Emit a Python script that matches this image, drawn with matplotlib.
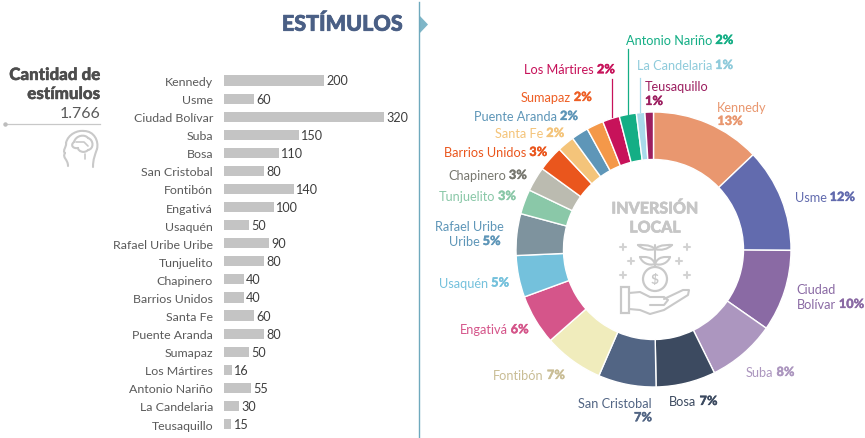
import matplotlib
matplotlib.use("Agg")
import matplotlib.pyplot as plt
import matplotlib.patheffects as pe
from matplotlib.patches import Circle, Polygon, PathPatch, Rectangle
from matplotlib.path import Path

plt.rcParams['font.family'] = ['Lato', 'DejaVu Sans']

# ---------- data ----------
bar_names = ["Kennedy", "Usme", "Ciudad Bolívar", "Suba", "Bosa", "San Cristobal", "Fontibón",
             "Engativá", "Usaquén", "Rafael Uribe Uribe", "Tunjuelito", "Chapinero",
             "Barrios Unidos", "Santa Fe", "Puente Aranda", "Sumapaz", "Los Mártires",
             "Antonio Nariño", "La Candelaria", "Teusaquillo"]
bar_values = [200, 60, 320, 150, 110, 80, 140, 100, 50, 90, 80, 40, 40, 60, 80, 50, 16, 55, 30, 15]
pie_shares = [12.9, 12.2, 9.6, 8.0, 7.0, 6.8, 7.0, 5.9, 4.9, 4.9, 2.9, 2.9, 3.0, 2.0, 2.0, 2.0, 2.0, 2.0, 1.0, 1.0]
pie_colors = ["#E9976F", "#626BAE", "#8A6AA4", "#AC96BF", "#3C4A60", "#526584", "#F0ECBC", "#D5558A",
              "#74C1DC", "#7E939E", "#8AC8A8", "#BBBBB0", "#EA561D", "#F4C47A", "#5E96B8", "#F49849",
              "#C7125A", "#14AE85", "#A8DAEA", "#9C1F60"]
title = "ESTÍMULOS"
total_label = ["Cantidad de", "estímulos"]
total_value = "1.766"
center_label = ["INVERSIÓN", "LOCAL"]
# regular text, bold text, anchor side, x, y, colour (one entry per text row)
pie_labels = [
    ("Antonio Nariño ", "2%", "l", 626, 41, "#14AE85"),
    ("La Candelaria ", "1%", "l", 636.7, 66, "#8FCBDB"),
    ("Teusaquillo", "", "l", 645, 87, "#9C1F60"),
    ("", "1%", "l", 645, 102, "#9C1F60"),
    ("Kennedy", "", "l", 717.3, 108, "#E9976F"),
    ("", "13%", "l", 717.3, 122, "#E9976F"),
    ("Usme ", "12%", "l", 794.7, 198, "#626BAE"),
    ("Los Mártires ", "2%", "l", 524.3, 70.3, "#C7125A"),
    ("Sumapaz ", "2%", "l", 520.7, 98, "#EE5F25"),
    ("Puente Aranda ", "2%", "l", 474, 117, "#5E96B8"),
    ("Santa Fe ", "2%", "l", 495, 134, "#F4C47A"),
    ("Barrios Unidos ", "3%", "l", 444, 153, "#EA561D"),
    ("Chapinero ", "3%", "l", 448, 176, "#77776F"),
    ("Tunjuelito ", "3%", "l", 438.5, 197, "#8AC8A8"),
    ("Rafael Uribe", "", "r", 504, 227, "#5E96B8"),
    ("Uribe ", "5%", "r", 504, 242, "#5E96B8"),
    ("Usaquén ", "5%", "l", 439, 283.6, "#74C1DC"),
    ("Engativá ", "6%", "l", 459.7, 330.3, "#D5558A"),
    ("Fontibón ", "7%", "l", 493.3, 376, "#C9BD95"),
    ("San Cristobal", "", "r", 652, 404, "#526584"),
    ("", "7%", "r", 652, 418.3, "#526584"),
    ("Bosa ", "7%", "l", 669.3, 402, "#3C4A60"),
    ("Suba ", "8%", "l", 746, 373, "#AC96BF"),
    ("Ciudad", "", "l", 796.7, 290, "#8A6AA4"),
    ("Bolívar ", "10%", "l", 796.7, 305, "#8A6AA4"),
]

W, H = 865, 439
fig = plt.figure(figsize=(W / 100, H / 100), dpi=100, facecolor="white")


def px_axes(x0, y0, x1, y1, **kw):
    return fig.add_axes([x0 / W, 1 - y1 / H, (x1 - x0) / W, (y1 - y0) / H], **kw)


def heavy(col, w=0.5):
    return [pe.withStroke(linewidth=w, foreground=col)]


# ---------- bars ----------
ax = px_axes(224, 72.46, 384, 434.04)
pos = list(range(len(bar_values)))
bars = ax.barh(pos, bar_values, height=0.56, color="#C4C4C4")
ax.set_xlim(0, 320)
ax.set_ylim(19.5, -0.5)
ax.set_yticks(pos, bar_names)
ax.set_xticks([])
ax.tick_params(axis="y", length=0, pad=7.9, labelsize=8.9, labelcolor="#5A5A5A")
for s in ax.spines.values():
    s.set_visible(False)
ax.patch.set_alpha(0)
ax.bar_label(bars, padding=1.6, fontsize=9.1, color="#3D3D3D")

# ---------- donut ----------
pax = px_axes(653.5 - 137.5, 250.5 - 137.5, 653.5 + 137.5, 250.5 + 137.5)
pax.pie(pie_shares, colors=pie_colors, startangle=90, counterclock=False, radius=1,
        wedgeprops=dict(width=47.5 / 137.5, edgecolor="white", linewidth=1.0))
pax.set_xlim(-1, 1)
pax.set_ylim(-1, 1)

# ---------- overlay in pixel coordinates ----------
ov = fig.add_axes([0, 0, 1, 1])
ov.set_xlim(0, W)
ov.set_ylim(H, 0)
ov.axis("off")
ov.patch.set_alpha(0)

ov.plot([418.5, 418.5], [3, 439], color="#6FA9BD", lw=1.0)
ov.add_patch(Polygon([[419, 16], [428, 25.5], [419, 35]], closed=True, fc="#7FB6C8", ec="none"))
ov.text(403, 25, title, ha="right", va="center", fontsize=15.5, fontweight="black", color="#4A5F85",
        path_effects=heavy("#4A5F85", 0.5))

for i, t in enumerate(total_label):
    ov.text(100, 76 + 19 * i, t, ha="right", va="center", fontsize=12.2, fontweight="black", color="#4D4D4D",
            path_effects=heavy("#4D4D4D", 0.3))
ov.text(100, 114, total_value, ha="right", va="center", fontsize=11.4, color="#5A5A5A")
ov.plot([5, 100], [124.5, 124.5], color="#C8C8C8", lw=0.9)
ov.plot([5], [124.5], "o", ms=2.2, color="#BDBDBD")

fig.canvas.draw()
rend = fig.canvas.get_renderer()
FS = 9.2


def mixed(reg, bold, side, x, y, col):
    t1 = ov.text(0, y, reg, fontsize=FS, color=col, va="center", ha="left") if reg else None
    t2 = ov.text(0, y, bold, fontsize=FS, color=col, va="center", ha="left", fontweight="black",
                 path_effects=heavy(col, 0.2)) if bold else None
    w1 = t1.get_window_extent(rend).width if t1 else 0
    w2 = t2.get_window_extent(rend).width if t2 else 0
    gap = 3 if (t1 and t2) else 0
    start = x if side == "l" else x - (w1 + w2 + gap)
    if t1:
        t1.set_text(reg.rstrip())
        t1.set_x(start)
        w1 = t1.get_window_extent(rend).width
    if t2:
        t2.set_x(start + w1 + gap)


for row in pie_labels:
    mixed(*row)

for x, y0, y1, c in [(627.7, 50, 115, "#14AE85"), (611.7, 80, 118, "#C7125A"), (640.3, 79, 113, "#A8DAEA")]:
    ov.plot([x, x], [y0, y1], color=c, lw=0.9)

GR = "#C9C9C9"
for i, t in enumerate(center_label):
    ov.text(655, 209.5 + 19 * i, t, ha="center", va="center", fontsize=11.5, fontweight="black", color="#C6C6C6",
            path_effects=heavy("#C6C6C6", 0.4))


def curve(verts, lw=1.5, col=GR):
    codes = [Path.MOVETO] + [Path.CURVE4] * (len(verts) - 1)
    ov.add_patch(PathPatch(Path(verts, codes), fc="none", ec=col, lw=lw, capstyle="round"))


def poly(pts, lw=1.5, col=GR, closed=False):
    xs = [p[0] for p in pts] + ([pts[0][0]] if closed else [])
    ys = [p[1] for p in pts] + ([pts[0][1]] if closed else [])
    ov.plot(xs, ys, color=col, lw=lw, solid_capstyle="round", solid_joinstyle="round")


# plant / coin / hand icon
ov.add_patch(Circle((655, 280), 12, fc="none", ec=GR, lw=1.6))
ov.text(655, 280, "$", ha="center", va="center", fontsize=10, fontweight="bold", color=GR)
poly([(655, 246), (655, 268)])
for sx in (-1, 1):
    curve([(655, 250), (655 + sx * 6, 252), (655 + sx * 13, 250), (655 + sx * 17, 246)])
    curve([(655 + sx * 17, 246), (655 + sx * 15, 246), (655 + sx * 5, 245), (655, 250)])
    curve([(655, 265), (655 + sx * 6, 267), (655 + sx * 13, 264), (655 + sx * 15, 258)])
    curve([(655 + sx * 15, 258), (655 + sx * 10, 258), (655 + sx * 3, 257), (655, 265)])
for px_, py_ in [(623, 248), (687, 248), (631, 262), (679, 262), (623, 276), (687, 276)]:
    poly([(px_ - 3, py_), (px_ + 3, py_)], lw=1.5, col="#D2D2D2")
    poly([(px_, py_ - 3), (px_, py_ + 3)], lw=1.5, col="#D2D2D2")
ov.add_patch(Rectangle((621, 288), 8, 26, fc="none", ec=GR, lw=1.6))
poly([(629, 294), (640, 293), (650, 298), (664, 298), (668, 301), (664, 306), (650, 306)])
poly([(664, 300), (683, 291), (689, 291), (688, 296), (664, 311), (650, 315), (640, 311), (629, 310)])

# head / brain icon
curve([(68, 167), (68, 160), (62, 159), (65, 154)])
curve([(65, 154), (62, 152), (67, 147), (66, 144)])
curve([(66, 144), (68, 135), (78, 131), (84, 132)])
curve([(84, 132), (94, 132), (99, 142), (97, 150)])
curve([(97, 150), (95, 156), (93, 160), (93, 168)])
curve([(74, 143), (76, 136), (85, 135), (88, 139)])
curve([(88, 139), (94, 141), (94, 150), (88, 151)])
curve([(88, 151), (84, 155), (78, 152), (78, 149)])
curve([(74, 143), (70, 146), (73, 150), (78, 149)])
poly([(76, 143), (84, 143), (88, 147)], lw=1.2)
poly([(85, 155), (85, 160)], lw=1.2)

fig.savefig("out.png", dpi=100)
